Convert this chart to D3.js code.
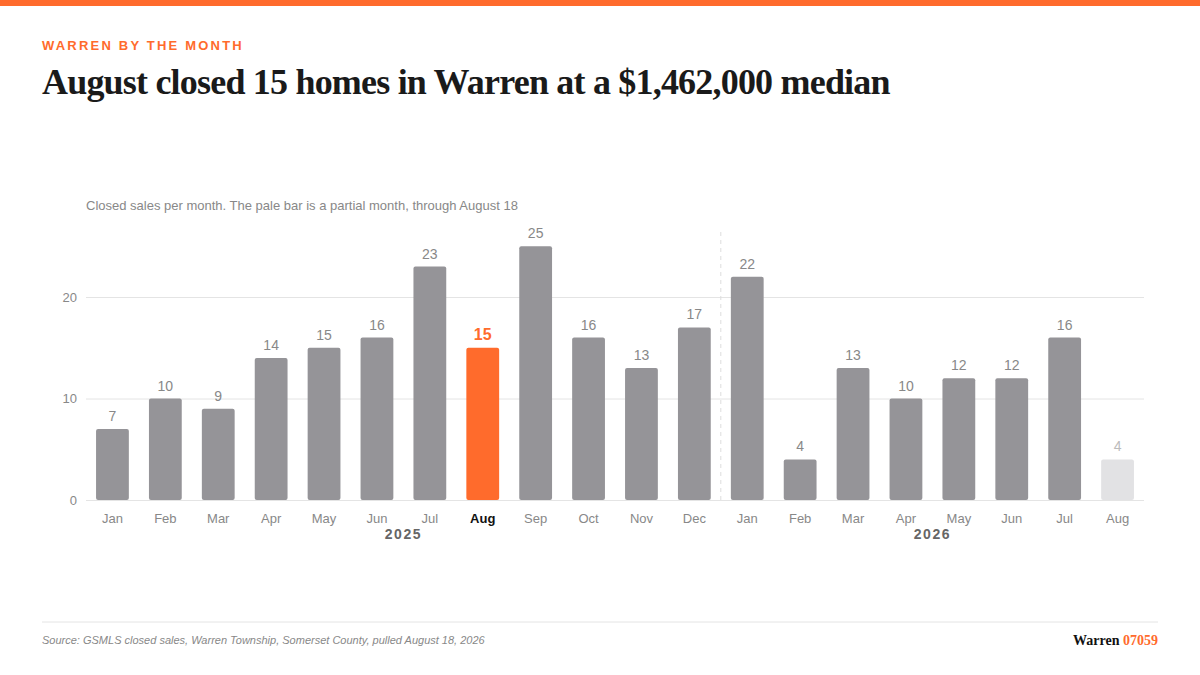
<!DOCTYPE html>
<html><head><meta charset="utf-8">
<script src="https://cdn.jsdelivr.net/npm/d3@7"></script>
<style>body{margin:0;background:#fff}svg{display:block}</style>
</head><body><svg id="c" width="1200" height="675"></svg>
<script>
const months = ["Jan","Feb","Mar","Apr","May","Jun","Jul","Aug","Sep","Oct","Nov","Dec","Jan","Feb","Mar","Apr","May","Jun","Jul","Aug"];
const sales = [7,10,9,14,15,16,23,15,25,16,13,17,22,4,13,10,12,12,16,4];
const years = ["2025","2026"];
const yTicks = [0,10,20];
const highlightIndex = 7, partialIndex = 19;

const svg = d3.select("#c");
const F = "Liberation Sans, Arial, sans-serif";
svg.append("rect").attr("width",1200).attr("height",6).attr("fill","#ff6b2c");
svg.append("text").attr("x",42).attr("y",50).text("WARREN BY THE MONTH")
  .attr("font-family",F).attr("font-size",13).attr("font-weight",700).attr("letter-spacing",2.2).attr("fill","#ff6b2c");
svg.append("text").attr("x",42).attr("y",94).text("August closed 15 homes in Warren at a $1,462,000 median")
  .attr("font-family","Liberation Serif, serif").attr("font-size",36).attr("font-weight",700).attr("letter-spacing",-0.8).attr("fill","#1a1a1a");
svg.append("text").attr("x",86).attr("y",210).text("Closed sales per month. The pale bar is a partial month, through August 18")
  .attr("font-family",F).attr("font-size",13).attr("fill","#888");

const x = d3.scaleBand().domain(d3.range(months.length)).range([86,1144]).paddingInner(0.38).paddingOuter(0.19);
const y = d3.scaleLinear().domain([0,20]).range([500,297]);

const g = svg.append("g");
const yAxis = d3.axisLeft(y).tickValues(yTicks).tickSize(-(1144-86)).tickPadding(9);
const ya = g.append("g").attr("transform","translate(86,0)").call(yAxis);
ya.select(".domain").remove();
ya.selectAll("line").attr("stroke","#e4e4e4");
ya.selectAll("text").attr("font-family",F).attr("font-size",13).attr("fill","#888");

const divX = (x(11)+x.bandwidth()+x(12))/2;
g.append("line").attr("x1",divX).attr("x2",divX).attr("y1",232).attr("y2",500)
  .attr("stroke","#ddd").attr("stroke-dasharray","4,4");

g.selectAll(".bar").data(sales).join("rect")
  .attr("x",(d,i)=>x(i)).attr("width",x.bandwidth())
  .attr("y",d=>y(d)).attr("height",d=>y(0)-y(d)).attr("rx",2)
  .attr("fill",(d,i)=>i===highlightIndex?"#ff6b2c":i===partialIndex?"#e2e2e4":"#959498");

g.selectAll(".val").data(sales).join("text")
  .attr("x",(d,i)=>x(i)+x.bandwidth()/2).attr("y",d=>y(d)-8).attr("text-anchor","middle")
  .text(d=>d).attr("font-family",F)
  .attr("font-size",(d,i)=>i===highlightIndex?16:14)
  .attr("font-weight",(d,i)=>i===highlightIndex?700:400)
  .attr("fill",(d,i)=>i===highlightIndex?"#ff6b2c":i===partialIndex?"#bbb":"#888");

const xAxis = d3.axisBottom(x).tickFormat(i=>months[i]).tickSize(0).tickPadding(14);
const xa = g.append("g").attr("transform","translate(0,500)").call(xAxis);
xa.select(".domain").remove();
xa.selectAll("text").attr("font-family",F).attr("font-size",13)
  .attr("fill",(i)=>i===highlightIndex?"#111":"#888").attr("font-weight",i=>i===highlightIndex?700:400);

[[0,11],[12,19]].forEach((r,k)=>{
  const cx=(x(r[0])+x(r[1])+x.bandwidth())/2;
  g.append("text").attr("x",cx).attr("y",539).attr("text-anchor","middle").text(years[k])
   .attr("font-family",F).attr("font-size",14).attr("font-weight",700).attr("letter-spacing",1.5).attr("fill","#666");
});

svg.append("line").attr("x1",42).attr("x2",1158).attr("y1",622).attr("y2",622).attr("stroke","#e4e4e4");
svg.append("text").attr("x",42).attr("y",644).text("Source: GSMLS closed sales, Warren Township, Somerset County, pulled August 18, 2026")
  .attr("font-family",F).attr("font-size",11).attr("font-style","italic").attr("fill","#888");
const br = svg.append("text").attr("x",1158).attr("y",645).attr("text-anchor","end")
  .attr("font-family","Liberation Serif, serif").attr("font-size",14).attr("font-weight",700);
br.append("tspan").text("Warren ").attr("fill","#111");
br.append("tspan").text("07059").attr("fill","#ff6b2c");
</script></body></html>
